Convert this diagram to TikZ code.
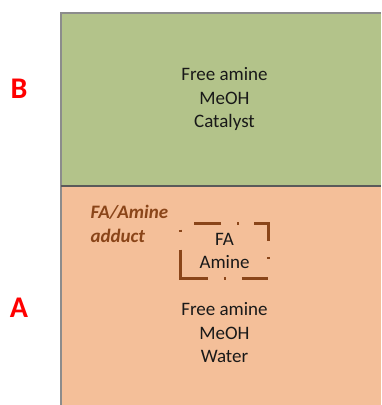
\documentclass[tikz,border=0pt]{standalone}
\usepackage{fontspec}
\setmainfont{Carlito}
\usepackage{tikz}
\usetikzlibrary{positioning}
\definecolor{phaseB}{HTML}{B3C38A}
\definecolor{phaseA}{HTML}{F4BF99}
\definecolor{adductbrown}{HTML}{8A4519}
\definecolor{edgegray}{HTML}{8C8C8C}
\definecolor{splitgray}{HTML}{5A5A5A}

\begin{document}
\begin{tikzpicture}
	[%
	x=1pt, y=1pt,%
	phase/.style ={draw=none,	inner sep=0pt,	anchor=south west},%
	content/.style={align=center,	text=black!90,	font=\fontsize{19}{23.5}\selectfont},%
	tag/.style ={text=red,	font=\fontsize{30}{34}\selectfont\bfseries},%
	adductlbl/.style ={align=left,	text=adductbrown,	font=\fontsize{19}{24}\selectfont\bfseries\itshape},%
	adductbox/.style ={draw=adductbrown,	line width=3pt,	dash pattern=on 55pt off 16pt on 2pt off 16pt on 26pt off 20pt on 2pt off 16pt on 31pt off 15pt on 2pt off 16pt on 27pt off 19pt on 2pt off 18pt},%
	]

	\newcommand\xleft{61}
	\newcommand\xright{381}
	\newcommand\ysplit{219}
	\newcommand\ytop{392}

	\useasboundingbox (0,0) rectangle (381,405);

	% phases
	\fill [phaseA] (\xleft,0) rectangle (\xright,\ysplit);
	\fill [phaseB] (\xleft,\ysplit) rectangle (\xright,\ytop);
	\draw [edgegray, line width=1.5pt] (\xleft,0) -- (\xleft,\ytop) -- (\xright,\ytop);
	\draw [splitgray, line width=1.5pt] (\xleft,\ysplit) -- (\xright,\ysplit);

	% labels
	\node (tagB) at (19,316) [tag] {B};
	\node (tagA) at (19,97) [tag] {A};

	\node (upper) at (224.5,306) [content] {Free amine\\MeOH\\Catalyst};
	\node (lower) at (224.5,72) [content] {Free amine\\MeOH\\Water};

	\node (adductname) at (87,181) [adductlbl, anchor=west] {FA/Amine\\adduct};
	\node (adduct) at (224.5,154) [content, minimum width=87pt, minimum height=54pt, inner sep=0pt] {FA\\Amine};

	% dashed frame of the adduct
	\draw [adductbox] ([yshift=28pt]adduct.south west) -- (adduct.south west) -- (adduct.south east)
		-- (adduct.north east) -- (adduct.north west) -- cycle;

\end{tikzpicture}
\end{document}
